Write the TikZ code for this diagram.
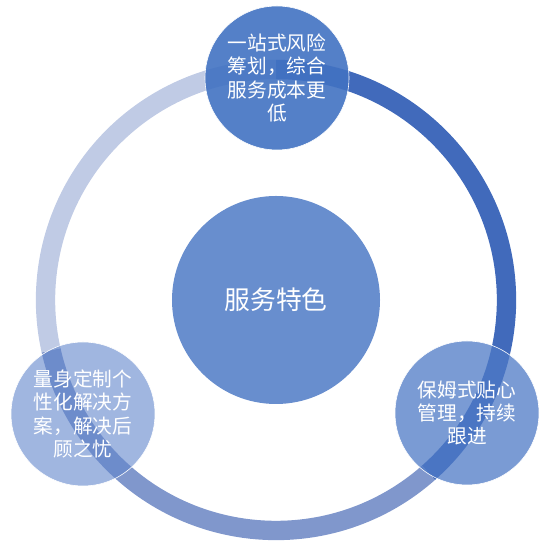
\documentclass[tikz,border=0pt]{standalone}
\usepackage{fontspec}
\newfontfamily\cjk{Noto Sans CJK SC}
\usepackage{xcolor}
\usepackage{tikz}
\usetikzlibrary{
	positioning,
	calc
}

\definecolor{ringdark}{RGB}{65,106,187}
\definecolor{ringmid}{RGB}{128,151,204}
\definecolor{ringlight}{RGB}{192,203,229}
\definecolor{hubblue}{RGB}{104,142,206}
\definecolor{topblue}{RGB}{65,114,194}
\definecolor{rightblue}{RGB}{78,122,198}
\definecolor{leftblue}{RGB}{97,133,203}

\tikzset{
	ring/.style={line width=0.58cm},
	bubble/.style={circle, draw=white, line width=0.5pt, inner sep=0pt,
		minimum size=4.32cm, text=white, align=center,
		font=\cjk\fontsize{16.8}{19.8}\selectfont},
	hub/.style={circle, fill=hubblue, inner sep=0pt, minimum size=6.24cm,
		text=white, font=\cjk\fontsize{22}{26}\selectfont}
}

\begin{document}
\begin{tikzpicture}[x=0.03cm, y=0.03cm]
		
		\useasboundingbox (0,0) rectangle (551,545);
		\coordinate (O) at (276,245);
		
		% Ring
		\draw[ring, ringdark] (O) ++(90:230.5)
		arc[start angle=90, end angle=-48.6, radius=230.5];
		\draw[ring, ringmid] (O) ++(-48.6:230.5)
		arc[start angle=-48.6, end angle=-167.4, radius=230.5];
		\draw[ring, ringlight] (O) ++(192.6:230.5)
		arc[start angle=192.6, end angle=90, radius=230.5];
		
		% Centre
		\node[hub] (hub) at (O) {服务特色};
		
		% Bubbles
		\node[bubble, fill=topblue, fill opacity=0.9, text opacity=1]
		(plan) at (277,467) {一站式风险\\筹划，综合\\服务成本更\\低};
		\node[bubble, fill=rightblue, fill opacity=0.75, text opacity=1]
		(care) at (467,132) {保姆式贴心\\管理，持续\\跟进};
		\node[bubble, fill=leftblue, fill opacity=0.6, text opacity=1]
		(custom) at (83,131) {量身定制个\\性化解决方\\案，解决后\\顾之忧};
		
	\end{tikzpicture}
\end{document}
